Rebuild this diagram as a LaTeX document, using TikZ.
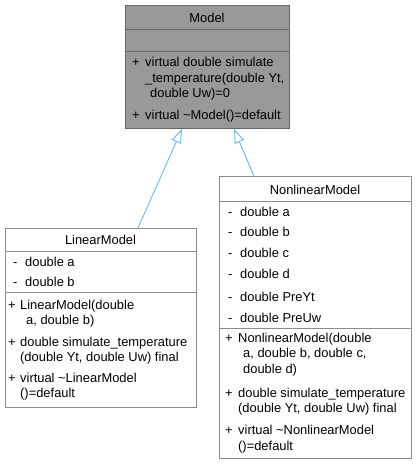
\documentclass[tikz,border=0pt]{standalone}
\usepackage{fontspec}
\setmainfont{Liberation Sans}
\usetikzlibrary{arrows.meta}
\definecolor{boxgray}{HTML}{999999}
\definecolor{darkborder}{HTML}{666666}
\definecolor{lightborder}{HTML}{8C8C8C}
\definecolor{arrowblue}{HTML}{63B8FF}
\begin{document}
\begin{tikzpicture}[x=1pt,y=-1pt,
  txt/.style={inner sep=0pt, anchor=base west, font=\fontsize{12.9}{15}\selectfont},
  ttl/.style={inner sep=0pt, anchor=base, font=\fontsize{12.9}{15}\selectfont},
  cls/.style={draw=lightborder, fill=white, anchor=north west, inner sep=0pt, line width=1pt},
  sep/.style={draw=lightborder, line width=1pt},
  inh/.style={draw=arrowblue, line width=0.9pt, -{Triangle[length=14pt, width=10pt, fill=white]}}]
\useasboundingbox (0,0) rectangle (416,464);
% Model
\node[cls, fill=boxgray, draw=darkborder, minimum width=164pt, minimum height=123pt] (model) at (125,5) {};
\draw[sep, draw=darkborder] ([yshift=-24pt]model.north west) -- ([yshift=-24pt]model.north east);
\draw[sep, draw=darkborder] ([yshift=-46pt]model.north west) -- ([yshift=-46pt]model.north east);
\node[ttl] (mt) at (207,22.5) {Model};
\node[txt] (m1p) at (132,66.5) {+};
\node[txt] (m1a) at (145,66.5) {virtual double simulate};
\node[txt] (m1b) at (145,82.5) {\_temperature(double Yt,};
\node[txt] (m1c) at (150,97.5) {double Uw)=0};
\node[txt] (m2p) at (132,119) {+};
\node[txt] (m2a) at (145,119) {virtual \textasciitilde Model()=default};
% LinearModel
\node[cls, minimum width=191pt, minimum height=179pt] (linear) at (5,228) {};
\draw[sep] ([yshift=-23pt]linear.north west) -- ([yshift=-23pt]linear.north east);
\draw[sep] ([yshift=-64pt]linear.north west) -- ([yshift=-64pt]linear.north east);
\node[ttl] (lt) at (100.5,244.5) {LinearModel};
\node[txt] (la1p) at (13,266.5) {-};
\node[txt] (la1) at (25,266.5) {double a};
\node[txt] (la2p) at (13,286.5) {-};
\node[txt] (la2) at (25,286.5) {double b};
\node[txt] (l1p) at (8,309.5) {+};
\node[txt] (l1a) at (20,309.5) {LinearModel(double};
\node[txt] (l1b) at (26,324.5) {a, double b)};
\node[txt] (l2p) at (8,346.5) {+};
\node[txt] (l2a) at (20,346.5) {double simulate\_temperature};
\node[txt] (l2b) at (20,361.5) {(double Yt, double Uw) final};
\node[txt] (l3p) at (8,382.5) {+};
\node[txt] (l3a) at (20,382.5) {virtual \textasciitilde LinearModel};
\node[txt] (l3b) at (20,397.5) {()=default};
% NonlinearModel
\node[cls, minimum width=192pt, minimum height=282pt] (nonlin) at (219,176) {};
\draw[sep] ([yshift=-25pt]nonlin.north west) -- ([yshift=-25pt]nonlin.north east);
\draw[sep] ([yshift=-152pt]nonlin.north west) -- ([yshift=-152pt]nonlin.north east);
\node[ttl] (nt) at (315,194.5) {NonlinearModel};
\node[txt] (na1p) at (228,216.5) {-};
\node[txt] (na1) at (240,216.5) {double a};
\node[txt] (na2p) at (228,236.5) {-};
\node[txt] (na2) at (240,236.5) {double b};
\node[txt] (na3p) at (228,257.5) {-};
\node[txt] (na3) at (240,257.5) {double c};
\node[txt] (na4p) at (228,278.5) {-};
\node[txt] (na4) at (240,278.5) {double d};
\node[txt] (na5p) at (228,301.5) {-};
\node[txt] (na5) at (240,301.5) {double PreYt};
\node[txt] (na6p) at (228,322.5) {-};
\node[txt] (na6) at (240,322.5) {double PreUw};
\node[txt] (n1p) at (225,342.5) {+};
\node[txt] (n1a) at (238,342.5) {NonlinearModel(double};
\node[txt] (n1b) at (243,357.5) {a, double b, double c,};
\node[txt] (n1c) at (243,373.5) {double d)};
\node[txt] (n2p) at (225,397.5) {+};
\node[txt] (n2a) at (238,397.5) {double simulate\_temperature};
\node[txt] (n2b) at (238,412.5) {(double Yt, double Uw) final};
\node[txt] (n3p) at (225,434.5) {+};
\node[txt] (n3a) at (238,434.5) {virtual \textasciitilde NonlinearModel};
\node[txt] (n3b) at (238,450.5) {()=default};
% inheritance arrows
\draw[inh] ([xshift=133pt]linear.north west) -- ([xshift=57pt]model.south west);
\draw[inh] ([xshift=35pt]nonlin.north west) -- ([xshift=109pt]model.south west);
\end{tikzpicture}
\end{document}
